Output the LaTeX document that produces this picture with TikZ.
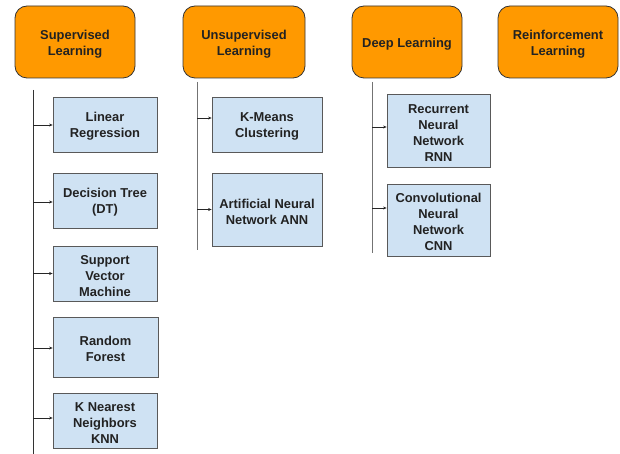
\documentclass[tikz,border=0pt]{standalone}
\usepackage{fontspec}
\setmainfont{Liberation Sans}
\usetikzlibrary{arrows.meta}
\definecolor{orangebox}{HTML}{FF9900}
\definecolor{bluebox}{HTML}{CFE2F3}
\definecolor{txt}{HTML}{222222}
\newcommand{\topst}{\rule{0pt}{13.5pt}}
\tikzset{
  cat/.style={draw=black!80, line width=0.8pt, fill=orangebox, rounded corners=12pt,
    minimum width=120pt, minimum height=72pt, align=center, text=txt,
    font=\fontsize{12.9}{16}\selectfont\bfseries, inner sep=0pt},
  algo/.style={draw=black!65, line width=0.8pt, fill=bluebox, align=center, text=txt,
    font=\fontsize{12.9}{16}\selectfont\bfseries, inner sep=0pt},
  stem/.style={draw=black!55, line width=0.8pt},
  arr/.style={draw=black!85, line width=0.6pt, -{Stealth[length=3.5pt,width=3pt]}}
}
\begin{document}
\begin{tikzpicture}[x=1pt,y=-1pt]
\useasboundingbox[fill=white] (0,0) rectangle (620,454);
% categories
\node[cat] (sup) at (75,42) {\topst Supervised\\Learning};
\node[cat, minimum width=122pt] (uns) at (244,42) {\topst Unsupervised\\Learning};
\node[cat, minimum width=110pt] (deep) at (407,42) {\topst Deep Learning};
\node[cat] (rein) at (558,42) {\topst Reinforcement\\Learning};
% stems
\coordinate (s0) at (33,90);
\coordinate (s1) at (33,454);
\coordinate (u0) at (197,82);
\coordinate (u1) at (197,250);
\coordinate (d0) at (372,82);
\coordinate (d1) at (372,253);
\draw[stem, black!80] (s0) -- (s1);
\draw[stem] (u0) -- (u1);
\draw[stem] (d0) -- (d1);
% supervised algorithms
\node[algo, minimum width=104pt, minimum height=55pt] (lr) at (105,124.5) {\topst Linear\\Regression};
\node[algo, minimum width=104pt, minimum height=55pt] (dt) at (105,200.5) {\topst Decision Tree\\(DT)};
\node[algo, minimum width=104pt, minimum height=55pt] (svm) at (105,273.5) {\topst Support\\Vector\\Machine};
\node[algo, minimum width=105pt, minimum height=60pt] (rf) at (105.5,347) {\topst Random\\Forest};
\node[algo, minimum width=104pt, minimum height=55pt] (knn) at (105,420.5) {\topst K Nearest\\Neighbors\\KNN};
% unsupervised
\node[algo, minimum width=110pt, minimum height=55pt] (km) at (267,124.5) {\topst K-Means\\Clustering};
\node[algo, minimum width=110pt, minimum height=73pt] (ann) at (267,209.5) {\topst Artificial Neural\\Network ANN};
% deep
\node[algo, minimum width=103pt, minimum height=73pt] (rnn) at (438.5,130.5) {\topst Recurrent\\Neural\\Network\\RNN};
\node[algo, minimum width=103pt, minimum height=72pt] (cnn) at (438.5,220) {\topst Convolutional\\Neural\\Network\\CNN};
% arrows
\draw[arr] ([yshift=-0.5pt]lr.west -| s0) -- ([yshift=-0.5pt]lr.west);
\draw[arr] ([yshift=-1.5pt]dt.west -| s0) -- ([yshift=-1.5pt]dt.west);
\draw[arr] (svm.west -| s0) -- (svm.west);
\draw[arr] ([yshift=-1pt]rf.west -| s0) -- ([yshift=-1pt]rf.west);
\draw[arr] ([yshift=2.5pt]knn.west -| s0) -- ([yshift=2.5pt]knn.west);
\draw[arr] ([yshift=6.5pt]km.west -| u0) -- ([yshift=6.5pt]km.west);
\draw[arr] (ann.west -| u0) -- (ann.west);
\draw[arr] ([yshift=3.5pt]rnn.west -| d0) -- ([yshift=3.5pt]rnn.west);
\draw[arr] ([yshift=12pt]cnn.west -| d0) -- ([yshift=12pt]cnn.west);
\end{tikzpicture}
\end{document}
